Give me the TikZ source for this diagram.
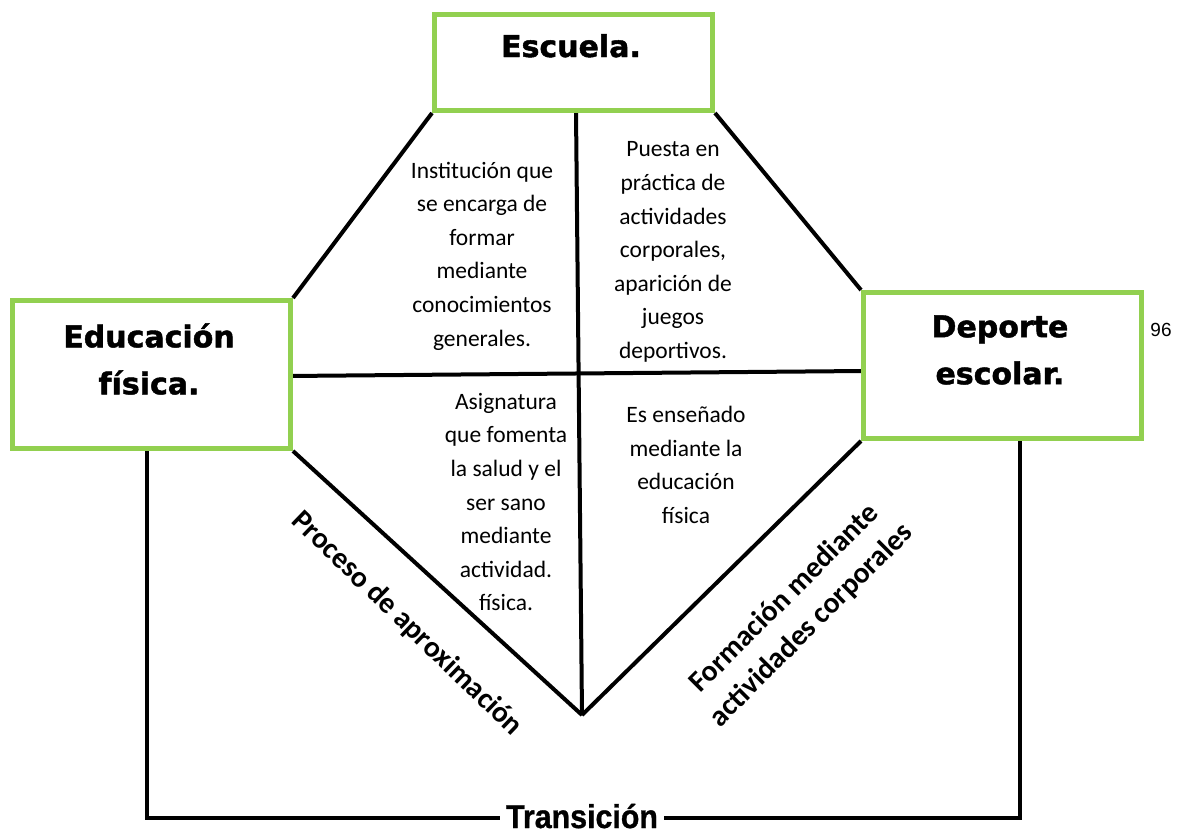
\documentclass[tikz,border=0pt]{standalone}
\usepackage{fontspec}
\setmainfont{Carlito}
\newfontfamily\headfont[BoldFeatures={FakeBold=1.5}]{DejaVu Sans}
\newfontfamily\arialfont[BoldFeatures={FakeBold=1}]{Liberation Sans}
\definecolor{boxgreen}{HTML}{92D050}
\begin{document}
\begin{tikzpicture}[x=1pt,y=-1pt,
  greenbox/.style={draw=boxgreen,line width=5pt,fill=white,inner sep=0pt,anchor=north west},
  title/.style={font=\headfont\bfseries\fontsize{30}{47}\selectfont,align=center,inner sep=0pt},
  desc/.style={font=\fontsize{23.5}{33.6}\selectfont,align=center,inner sep=0pt},
  slant/.style={font=\bfseries\fontsize{29.6}{38}\selectfont,align=center,inner sep=0pt},
  link/.style={line width=4pt,black}]
\useasboundingbox (0,0) rectangle (1180,830);
% boxes
\node[greenbox,minimum width=278pt,minimum height=96pt] (esc) at (432,12) {};
\node[greenbox,minimum width=278pt,minimum height=148pt] (edu) at (10,298) {};
\node[greenbox,minimum width=278pt,minimum height=146pt] (dep) at (861,290) {};
% connector points
\coordinate (vtop) at (576,112);
\coordinate (vbot) at (582,715);
\coordinate (hl) at (288,376);
\coordinate (hr) at (862,371);
\coordinate (bl) at (147,818);
\coordinate (br) at (1020,818);
\coordinate (bltop) at (147,446);
\coordinate (brtop) at (1020,436);
% connectors
\draw[link] (esc.south west) -- (edu.north east);
\draw[link] (esc.south east) -- (dep.north west);
\draw[link] (vtop) -- (vbot);
\draw[link] (hl) -- (hr);
\draw[link] (edu.south east) -- (vbot);
\draw[link] (dep.south west) -- (vbot);
\draw[line width=3.5pt] (bltop) -- (bl) -- (br) -- (brtop);
% redraw box borders on top
\node[greenbox,minimum width=278pt,minimum height=96pt] at (432,12) {};
\node[greenbox,minimum width=278pt,minimum height=148pt] at (10,298) {};
\node[greenbox,minimum width=278pt,minimum height=146pt] at (861,290) {};
% titles
\node[title,anchor=base] (tesc) at (571,57) {Escuela.};
\node[title] (tedu) at (149,359) {Educación\\física.};
\node[title] (tdep) at (1000,350) {Deporte\\escolar.};
\node[font=\arialfont\fontsize{19}{22}\selectfont,inner sep=0pt] (num) at (1161,330) {96};
% descriptions
\node[desc] (d1) at (482,256) {Institución que\\se encarga de\\formar\\mediante\\conocimientos\\generales.};
\node[desc] (d2) at (673,252) {Puesta en\\práctica de\\actividades\\corporales,\\aparición de\\juegos\\deportivos.};
\node[desc] (d3) at (506,502) {Asignatura\\que fomenta\\la salud y el\\ser sano\\mediante\\actividad.\\física.};
\node[desc] (d4) at (686,465) {Es enseñado\\mediante la\\educación\\física};
% slanted labels
\node[slant,rotate=-44] (lproc) at (407,624) {Proceso de aproximación};
\node[slant,rotate=45] (lform) at (798,612) {Formación mediante\\actividades corporales};
% transition
\node[font=\arialfont\bfseries\fontsize{33}{36}\selectfont,fill=white,inner xsep=6pt,inner ysep=0pt,anchor=base] (trans) at (582,828) {\scalebox{0.92}[1]{Transición}};
\end{tikzpicture}
\end{document}
